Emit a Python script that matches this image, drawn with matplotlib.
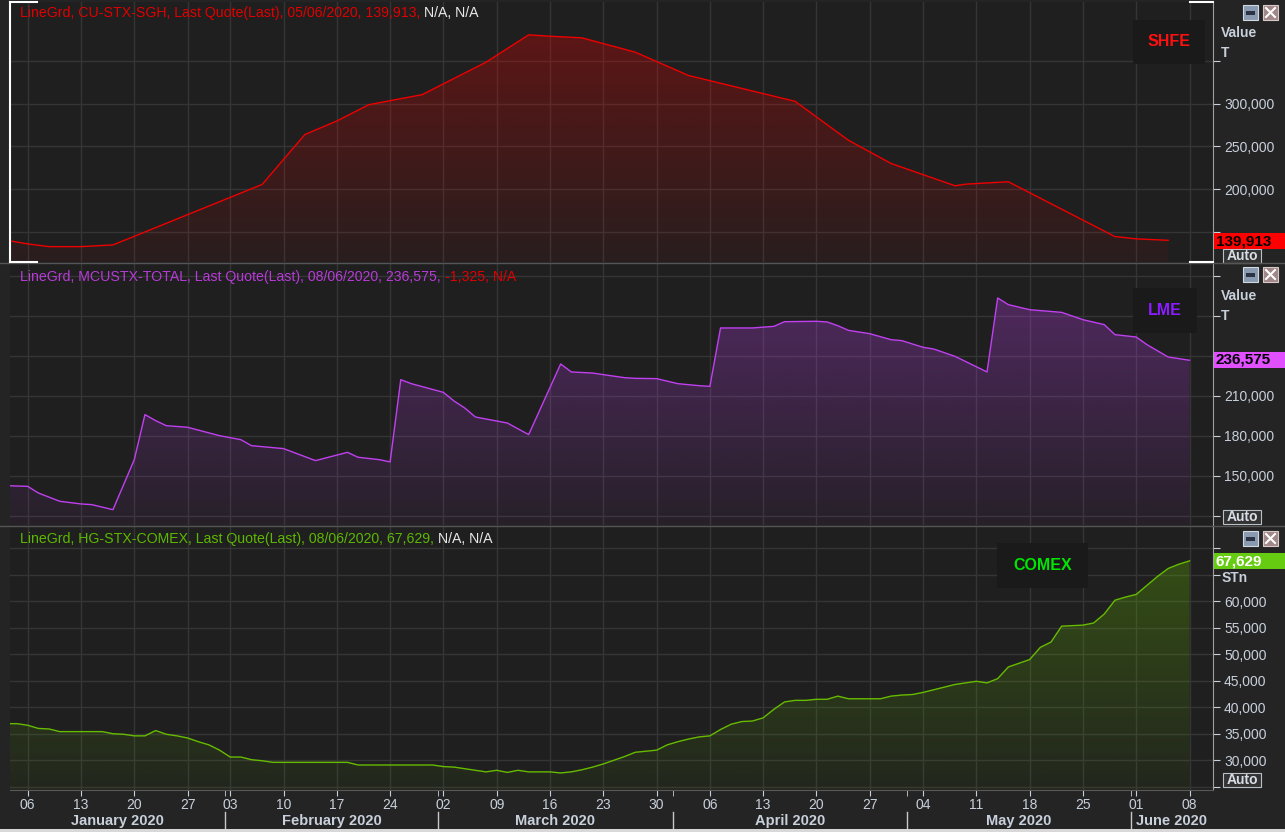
import matplotlib
matplotlib.use('Agg')
import matplotlib.pyplot as plt
import matplotlib.transforms as mtransforms
from matplotlib.patches import Rectangle, Polygon
from matplotlib.colors import to_rgb
import numpy as np
import pandas as pd

plt.rcParams['font.family'] = ['Liberation Sans', 'DejaVu Sans']

# trading-day axis (one late-January day is missing from the source axis)
days = pd.bdate_range('2020-01-02', '2020-06-12').drop(pd.Timestamp('2020-01-29'))
pos = {d: i for i, d in enumerate(days)}

# SHFE copper stocks (T)
shfe_dates = ['2020-01-02', '2020-01-06', '2020-01-08', '2020-01-13', '2020-01-16',
              '2020-02-06', '2020-02-12', '2020-02-17', '2020-02-20', '2020-02-27',
              '2020-03-06', '2020-03-12', '2020-03-16', '2020-03-19', '2020-03-26',
              '2020-04-02', '2020-04-16', '2020-04-23', '2020-04-29', '2020-05-07',
              '2020-05-08', '2020-05-14', '2020-05-28', '2020-06-01', '2020-06-04']
shfe_vals = [140000, 135700, 132500, 132500, 134500,
             205400, 263800, 279700, 298800, 310500,
             348600, 380600, 379000, 377100, 360300,
             333000, 302700, 257100, 229900, 203800,
             205700, 208500, 144300, 141600, 139913]

# LME copper stocks (T)
lme_dates = ['2020-01-02', '2020-01-06', '2020-01-07', '2020-01-09', '2020-01-13',
             '2020-01-14', '2020-01-16', '2020-01-20', '2020-01-21', '2020-01-22',
             '2020-01-23', '2020-01-27', '2020-01-31', '2020-02-04', '2020-02-05',
             '2020-02-10', '2020-02-13', '2020-02-18', '2020-02-19', '2020-02-21',
             '2020-02-24', '2020-02-25', '2020-02-26', '2020-03-02', '2020-03-03',
             '2020-03-04', '2020-03-05', '2020-03-06', '2020-03-10', '2020-03-12',
             '2020-03-17', '2020-03-18', '2020-03-20', '2020-03-23', '2020-03-25',
             '2020-03-26', '2020-03-30', '2020-04-01', '2020-04-03', '2020-04-06',
             '2020-04-07', '2020-04-10', '2020-04-14', '2020-04-15', '2020-04-20',
             '2020-04-21', '2020-04-22', '2020-04-23', '2020-04-27', '2020-04-29',
             '2020-04-30', '2020-05-04', '2020-05-05', '2020-05-07', '2020-05-12',
             '2020-05-13', '2020-05-14', '2020-05-18', '2020-05-21', '2020-05-25',
             '2020-05-27', '2020-05-28', '2020-06-01', '2020-06-02', '2020-06-04',
             '2020-06-08']
lme_vals = [142500, 142000, 137000, 130800, 128800,
            128300, 124500, 162000, 195800, 191300,
            187500, 186300, 180000, 177000, 172500,
            170300, 161300, 167500, 163800, 162000,
            160300, 222000, 219000, 212500, 206000,
            200800, 194000, 192500, 189500, 180800,
            233800, 227800, 227000, 225800, 223500,
            223000, 222800, 219000, 217500, 217000,
            260800, 260800, 262000, 265500, 265800,
            265300, 262500, 259000, 256500, 252000,
            251300, 246300, 245000, 239500, 227800,
            283300, 278300, 274500, 272500, 267000,
            263300, 255800, 254000, 248300, 239000,
            236575]

# COMEX copper stocks (STn)
comex_dates = ['2020-01-02', '2020-01-03', '2020-01-06', '2020-01-07', '2020-01-08',
               '2020-01-09', '2020-01-15', '2020-01-16', '2020-01-17', '2020-01-20',
               '2020-01-21', '2020-01-22', '2020-01-23', '2020-01-24', '2020-01-27',
               '2020-01-28', '2020-01-30', '2020-01-31', '2020-02-03', '2020-02-04',
               '2020-02-05', '2020-02-06', '2020-02-07', '2020-02-18', '2020-02-19',
               '2020-02-28', '2020-03-02', '2020-03-03', '2020-03-05', '2020-03-06',
               '2020-03-09', '2020-03-10', '2020-03-11', '2020-03-12', '2020-03-16',
               '2020-03-17', '2020-03-18', '2020-03-19', '2020-03-20', '2020-03-23',
               '2020-03-24', '2020-03-25', '2020-03-26', '2020-03-27', '2020-03-30',
               '2020-03-31', '2020-04-01', '2020-04-02', '2020-04-03', '2020-04-06',
               '2020-04-07', '2020-04-08', '2020-04-09', '2020-04-10', '2020-04-13',
               '2020-04-14', '2020-04-15', '2020-04-16', '2020-04-17', '2020-04-20',
               '2020-04-21', '2020-04-22', '2020-04-23', '2020-04-28', '2020-04-29',
               '2020-04-30', '2020-05-01', '2020-05-04', '2020-05-06', '2020-05-07',
               '2020-05-11', '2020-05-12', '2020-05-13', '2020-05-14', '2020-05-15',
               '2020-05-18', '2020-05-19', '2020-05-20', '2020-05-21', '2020-05-22',
               '2020-05-25', '2020-05-26', '2020-05-27', '2020-05-28', '2020-05-29',
               '2020-06-01', '2020-06-02', '2020-06-03', '2020-06-04', '2020-06-05',
               '2020-06-08']
comex_vals = [36900, 36900, 36600, 36000, 35900,
              35400, 35400, 35000, 34900, 34600,
              34600, 35600, 34900, 34600, 34200,
              33500, 32900, 31900, 30600, 30600,
              30100, 29900, 29600, 29600, 29100,
              29100, 28800, 28700, 28100, 27800,
              28100, 27700, 28100, 27800, 27800,
              27600, 27800, 28200, 28700, 29300,
              30000, 30700, 31500, 31700, 31900,
              32900, 33500, 34000, 34400, 34600,
              35800, 36800, 37300, 37400, 38000,
              39600, 41000, 41300, 41300, 41500,
              41500, 42100, 41600, 41600, 42100,
              42300, 42400, 42800, 43800, 44300,
              44900, 44600, 45400, 47600, 48300,
              49000, 51300, 52300, 55300, 55400,
              55500, 55900, 57600, 60200, 60800,
              61300, 63000, 64700, 66200, 67000,
              67629]

# tick values; labels covered by the value badges / unit labels are left blank
shfe_ticks = [150000, 200000, 250000, 300000, 350000]
shfe_labels = ['', '200,000', '250,000', '300,000', '']
lme_ticks = [120000, 150000, 180000, 210000, 240000, 270000, 300000]
lme_labels = ['', '150,000', '180,000', '210,000', '', '', '']
comex_ticks = [25000, 30000, 35000, 40000, 45000, 50000, 55000, 60000, 65000, 70000]
comex_labels = ['', '30,000', '35,000', '40,000', '45,000', '50,000', '55,000', '60,000', '', '']

BG = '#1f1f1f'
GRID = '#353535'
TXT = '#c8d0dc'

W, H = 1285, 832
fig = plt.figure(figsize=(W / 100, H / 100), dpi=100)
fig.patch.set_facecolor('#242424')


def px_axes(top, bottom):
    return fig.add_axes([10 / W, 1 - bottom / H, (1213 - 10) / W, (bottom - top) / H])


def xs(dates):
    return [pos[pd.Timestamp(d)] for d in dates]


def grad_fill(ax, x, y, color, ylo):
    r, g, b = to_rgb(color)
    img = np.zeros((256, 1, 4))
    img[:, 0, 0], img[:, 0, 1], img[:, 0, 2] = r, g, b
    img[:, 0, 3] = np.linspace(0.05, 0.30, 256)
    im = ax.imshow(img, aspect='auto', origin='lower',
                   extent=[x[0], x[-1], ylo, max(y)], zorder=1)
    poly = Polygon([(x[0], ylo)] + list(zip(x, y)) + [(x[-1], ylo)],
                   closed=True, fc='none', ec='none')
    ax.add_patch(poly)
    im.set_clip_path(poly)


mondays = [i for i, d in enumerate(days) if d.weekday() == 0 and d <= pd.Timestamp('2020-06-08')]
month_ends = [i for i in range(len(days) - 1) if days[i].month != days[i + 1].month]
xlim = (0.34, 113.2)

panels = [
    (2, 262, shfe_dates, shfe_vals, '#ee0000', (114500, 419100), shfe_ticks, shfe_labels),
    (263.5, 525, lme_dates, lme_vals, '#c040f0', (113000, 309150), lme_ticks, lme_labels),
    (527, 790, comex_dates, comex_vals, '#66bb00', (24380, 74020), comex_ticks, comex_labels),
]
axes = []
for top, bot, dts, vals, col, ylim, ticks, labels in panels:
    ax = px_axes(top, bot)
    ax.set_facecolor(BG)
    x = xs(dts)
    grad_fill(ax, x, vals, col, ylim[0])
    ax.plot(x, vals, color=col, lw=1.0, zorder=3)
    ax.set_xlim(*xlim)
    ax.set_ylim(*ylim)
    ax.yaxis.tick_right()
    ax.set_yticks(ticks)
    ax.set_yticklabels(labels)
    ax.set_xticks(mondays)
    ax.grid(True, color=GRID, lw=1, zorder=0)
    ax.set_axisbelow(True)
    ax.tick_params(axis='y', length=5, color=TXT, labelcolor=TXT, labelsize=10, pad=3)
    ax.tick_params(axis='x', length=0, labelbottom=False)
    for s in ['left', 'top', 'bottom']:
        ax.spines[s].set_visible(False)
    ax.spines['right'].set_color('#a0a0a0')
    axes.append(ax)

ax1, ax2, ax3 = axes


def title(ax, yfrac, main, main_col, tail, tail_col):
    t = ax.text(0.0083, yfrac, main, color=main_col, fontsize=10.2, va='center',
                transform=ax.transAxes, zorder=5)
    ax.annotate(tail, xy=(1, 0.5), xycoords=t, va='center', color=tail_col,
                fontsize=10.2, zorder=5)


title(ax1, 0.958, 'LineGrd, CU-STX-SGH, Last Quote(Last), 05/06/2020, 139,913, ', '#e00000',
      'N/A, N/A', '#e8e8e8')
title(ax2, 0.948, 'LineGrd, MCUSTX-TOTAL, Last Quote(Last), 08/06/2020, 236,575, ', '#b83ad8',
      '-1,325, N/A', '#e00000')
title(ax3, 0.954, 'LineGrd, HG-STX-COMEX, Last Quote(Last), 08/06/2020, 67,629, ', '#5cb800',
      'N/A, N/A', '#e8e8e8')

# date axis
ax3.set_xticks(mondays)
ax3.set_xticklabels([days[i].strftime('%d') for i in mondays])
ax3.set_xticks([e + 0.5 for e in month_ends], minor=True)
ax3.tick_params(axis='x', which='both', length=4, color=TXT, labelcolor=TXT,
                labelsize=10, pad=2, labelbottom=True)
ax3.spines['bottom'].set_visible(True)
ax3.spines['bottom'].set_color('#5a5a5a')

bt = mtransforms.blended_transform_factory(ax3.transData, ax3.transAxes)
bounds = [xlim[0]] + [e + 0.5 for e in month_ends] + [xlim[1]]
for b in bounds[1:-1]:
    ax3.plot([b, b], [-0.084, -0.152], color='#c8c8c8', lw=1, transform=bt, clip_on=False)
for i in range(len(bounds) - 1):
    m = days[min(int(bounds[i]) + 1, len(days) - 1)]
    ax3.text((bounds[i] + bounds[i + 1]) / 2, -0.118, m.strftime('%B %Y'), ha='center',
             va='center', fontsize=10.5, weight='bold', color=TXT, transform=bt)

# overlay in pixel coordinates for the chart furniture
ov = fig.add_axes([0, 0, 1, 1], zorder=10)
ov.set_xlim(0, W)
ov.set_ylim(H, 0)
ov.axis('off')

for y in [262.5, 525.5]:
    ov.plot([0, W], [y, y], color='#555555', lw=1)
ov.add_patch(Rectangle((0, 828.5), W, 4, fc='#d8d8d8', ec='none'))

# selection bracket of the top panel
ov.plot([9.5, 9.5], [2, 262], color='white', lw=1.5)
for y in [2, 262]:
    ov.plot([9.5, 37], [y, y], color='white', lw=1.5)
    ov.plot([1190, 1213], [y, y], color='white', lw=1.5)

# name boxes
for (x0, y0, w, h, name, col) in [(1133, 20, 72, 44, 'SHFE', '#ff1010'),
                                  (1133, 288, 64, 45, 'LME', '#8a1cff'),
                                  (997, 543, 91, 45, 'COMEX', '#00e600')]:
    ov.add_patch(Rectangle((x0, y0), w, h, fc='#1a1a1a', ec='none'))
    ov.text(x0 + w / 2, y0 + h / 2, name, color=col, fontsize=11.5, weight='bold',
            ha='center', va='center')

# unit labels
ov.text(1221, 33, 'Value', color=TXT, fontsize=10, weight='bold', va='center')
ov.text(1221, 53, 'T', color=TXT, fontsize=10, weight='bold', va='center')
ov.text(1221, 296, 'Value', color=TXT, fontsize=10, weight='bold', va='center')
ov.text(1221, 316, 'T', color=TXT, fontsize=10, weight='bold', va='center')
ov.text(1222, 578, 'STn', color=TXT, fontsize=10, weight='bold', va='center')

# Auto boxes
for y0 in [249, 510, 773]:
    ov.add_patch(Rectangle((1223, y0), 38, 14, fc='#333333', ec='#b8c0c8', lw=0.8))
    ov.text(1242, y0 + 7, 'Auto', color='#d8dee6', fontsize=10, weight='bold',
            ha='center', va='center')

# last value badges
for (y0, txt, fc, tc) in [(233, '139,913', '#ff0000', 'black'),
                          (352, '236,575', '#e050ff', 'black'),
                          (553, '67,629', '#66cc11', 'white')]:
    ov.add_patch(Rectangle((1214, y0), 71, 16, fc=fc, ec='none'))
    ov.text(1216, y0 + 8, txt, color=tc, fontsize=11, weight='bold', va='center')

# window icons
for y0 in [5, 267, 531]:
    ov.add_patch(Rectangle((1243, y0), 15, 15, fc='#8a9ab0', ec='#d0d8e0', lw=0.8))
    ov.add_patch(Rectangle((1246, y0 + 6), 9, 4, fc='#2a3444', ec='none'))
    ov.add_patch(Rectangle((1263, y0), 15, 15, fc='#a08888', ec='#d8c8c8', lw=0.8))
    ov.plot([1266, 1275], [y0 + 3, y0 + 12], color='white', lw=1.5)
    ov.plot([1266, 1275], [y0 + 12, y0 + 3], color='white', lw=1.5)

fig.savefig('out.png', dpi=100, facecolor=fig.get_facecolor())
